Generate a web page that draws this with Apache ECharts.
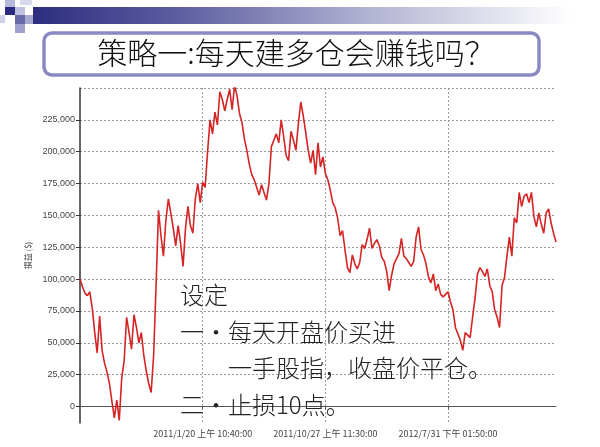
<!DOCTYPE html>
<html>
<head>
<meta charset="utf-8">
<script src="https://cdn.jsdelivr.net/npm/echarts@6/dist/echarts.min.js"></script>
<style>
html,body{margin:0;padding:0;background:#fff;}
#c{width:600px;height:447px;}
</style>
</head>
<body>
<div id="c"></div>
<script>
// ---- data ----
const titleText = '策略一:每天建多仓会赚钱吗？';
const yAxisName = '損益 ($)';
const tickLabels = ['2011/1/20 上午 10:40:00', '2011/10/27 上午 11:30:00', '2012/7/31 下午 01:50:00'];
const tickIndices = [50, 100, 150];
const noteLines = ['设定', '一・每天开盘价买进', '一手股指，收盘价平仓。', '二・止损10点。'];
const pnl = [
 100000, 94000, 89000, 87000, 90000, 77000, 58000, 42000, 71000, 44000,
 34000, 27000, 18000, 4000, -9000, 5000, -11000, 22000, 36000, 70000,
 58000, 45000, 72000, 62000, 50000, 58000, 40000, 28000, 18000, 11000,
 40000, 95000, 154000, 134000, 118000, 146000, 163000, 152000, 140000, 126000,
 142000, 128000, 110000, 140000, 157000, 142000, 136000, 163000, 175000, 160000,
 176000, 172000, 200000, 225000, 214000, 231000, 221000, 247000, 241000, 232000,
 241000, 249000, 233000, 252000, 244000, 230000, 223000, 210000, 201000, 190000,
 182000, 178000, 172000, 166000, 174000, 168000, 162000, 175000, 204000, 209000,
 214000, 207000, 225000, 212000, 197000, 193000, 216000, 209000, 201000, 222000,
 239000, 228000, 215000, 201000, 191000, 201000, 182000, 207000, 188000, 196000,
 183000, 178000, 170000, 160000, 156000, 148000, 134000, 138000, 123000, 109000,
 105000, 119000, 112000, 108000, 113000, 127000, 124000, 131000, 140000, 124000,
 128000, 131000, 126000, 117000, 114000, 106000, 91000, 103000, 112000, 116000,
 120000, 132000, 118000, 116000, 113000, 110000, 114000, 133000, 141000, 123000,
 119000, 112000, 102000, 97000, 104000, 91000, 96000, 88000, 86000, 88000,
 90000, 82000, 76000, 62000, 57000, 52000, 44000, 58000, 56000, 54000,
 70000, 85000, 104000, 109000, 106000, 102000, 108000, 95000, 90000, 76000,
 70000, 62000, 95000, 101000, 118000, 133000, 118000, 148000, 144000, 168000,
 157000, 165000, 167000, 160000, 168000, 149000, 141000, 152000, 143000, 136000,
 152000, 155000, 144000, 136000, 129000
];

// ---- chart ----
const chart = echarts.init(document.getElementById('c'), null, {renderer: 'canvas'});
const fmtNum = v => {
  if (v < 0) return '';
  return String(Math.round(v)).replace(/\B(?=(\d{3})+(?!\d))/g, ',');
};
const cjk = '"Noto Sans CJK SC", "Noto Sans", sans-serif';
const noteY = [295, 332, 368, 405];
const noteX = [180, 180, 228, 180];

const graphics = [
  // header decorative squares
  {type:'rect', shape:{x:5,y:0,width:10,height:7}, style:{fill:'#b8b8dc'}},
  {type:'rect', shape:{x:20,y:0,width:12,height:5}, style:{fill:'#d8d8ec'}},
  {type:'rect', shape:{x:5,y:7,width:10,height:8}, style:{fill:'#2a2a80'}},
  {type:'rect', shape:{x:15,y:7,width:10,height:8}, style:{fill:'#c0c0e0'}},
  {type:'rect', shape:{x:0,y:15,width:5,height:8}, style:{fill:'#d0d0e8'}},
  {type:'rect', shape:{x:15,y:15,width:10,height:9}, style:{fill:'#6a6aaa'}},
  {type:'rect', shape:{x:25,y:15,width:8,height:9}, style:{fill:'#a8a8d0'}},
  {type:'rect', shape:{x:15,y:24,width:10,height:9}, style:{fill:'#a0a0cc'}},
  // gradient bar
  {type:'rect', shape:{x:33,y:7,width:567,height:17},
   style:{fill:new echarts.graphic.LinearGradient(0,0,1,0,[
     {offset:0,color:'#2d2d80'},{offset:0.25,color:'#5c5ca0'},
     {offset:0.6,color:'#b4b4d4'},{offset:0.95,color:'#ffffff'}])}},
  // title box
  {type:'rect', shape:{x:44,y:33,width:495,height:42,r:8},
   style:{fill:'#ffffff', stroke:'#8a8ac2', lineWidth:3.5}},
  {type:'text', x:296, y:53,
   style:{text:titleText, font:'300 30px ' + cjk, fill:'#111', align:'center', verticalAlign:'middle'}}
];
noteLines.forEach((t, i) => {
  graphics.push({type:'text', x:noteX[i], y:noteY[i], z:100,
    style:{text:t, font:'300 24px ' + cjk, fill:'#222', align:'left', verticalAlign:'middle'}});
});

chart.setOption({
  animation: false,
  backgroundColor: '#ffffff',
  grid: {left: 80, top: 88, right: 44, bottom: 24, containLabel: false},
  xAxis: {
    type: 'value', min: 0, max: pnl.length - 1, interval: 50,
    axisLine: {show: true, lineStyle: {color: '#555', width: 1}},
    axisTick: {show: true, length: 3, lineStyle: {color: '#555'}},
    axisLabel: {
      show: true, fontSize: 9, color: '#444', fontFamily: cjk, margin: 6,
      showMinLabel: false, showMaxLabel: false,
      formatter: v => { const k = tickIndices.indexOf(Math.round(v)); return k >= 0 ? tickLabels[k] : ''; }
    },
    splitLine: {show: true, showMinLine: false, showMaxLine: false,
      lineStyle: {color: '#999', type: [2, 2], width: 1}}
  },
  yAxis: {
    type: 'value', min: -13000, max: 250000, minInterval: 25000, maxInterval: 25000,
    name: yAxisName, nameLocation: 'middle', nameGap: 45, nameRotate: 90,
    nameTextStyle: {fontSize: 8, color: '#444', fontFamily: cjk},
    axisLine: {show: true, lineStyle: {color: '#333', width: 1.5}},
    axisTick: {show: true, length: 4, lineStyle: {color: '#333'}},
    axisLabel: {fontSize: 9, color: '#444', fontFamily: '"Liberation Sans", Arial, sans-serif',
      margin: 5, showMinLabel: false, showMaxLabel: false, formatter: fmtNum},
    splitLine: {show: true, showMinLine: false,
      lineStyle: {color: '#999', type: [2, 2], width: 1}}
  },
  series: [{
    type: 'line', data: pnl.map((v, i) => [i, v]), showSymbol: false, symbol: 'none',
    lineStyle: {color: '#d42424', width: 1.6}, z: 3
  }],
  graphic: graphics
});
</script>
</body>
</html>
